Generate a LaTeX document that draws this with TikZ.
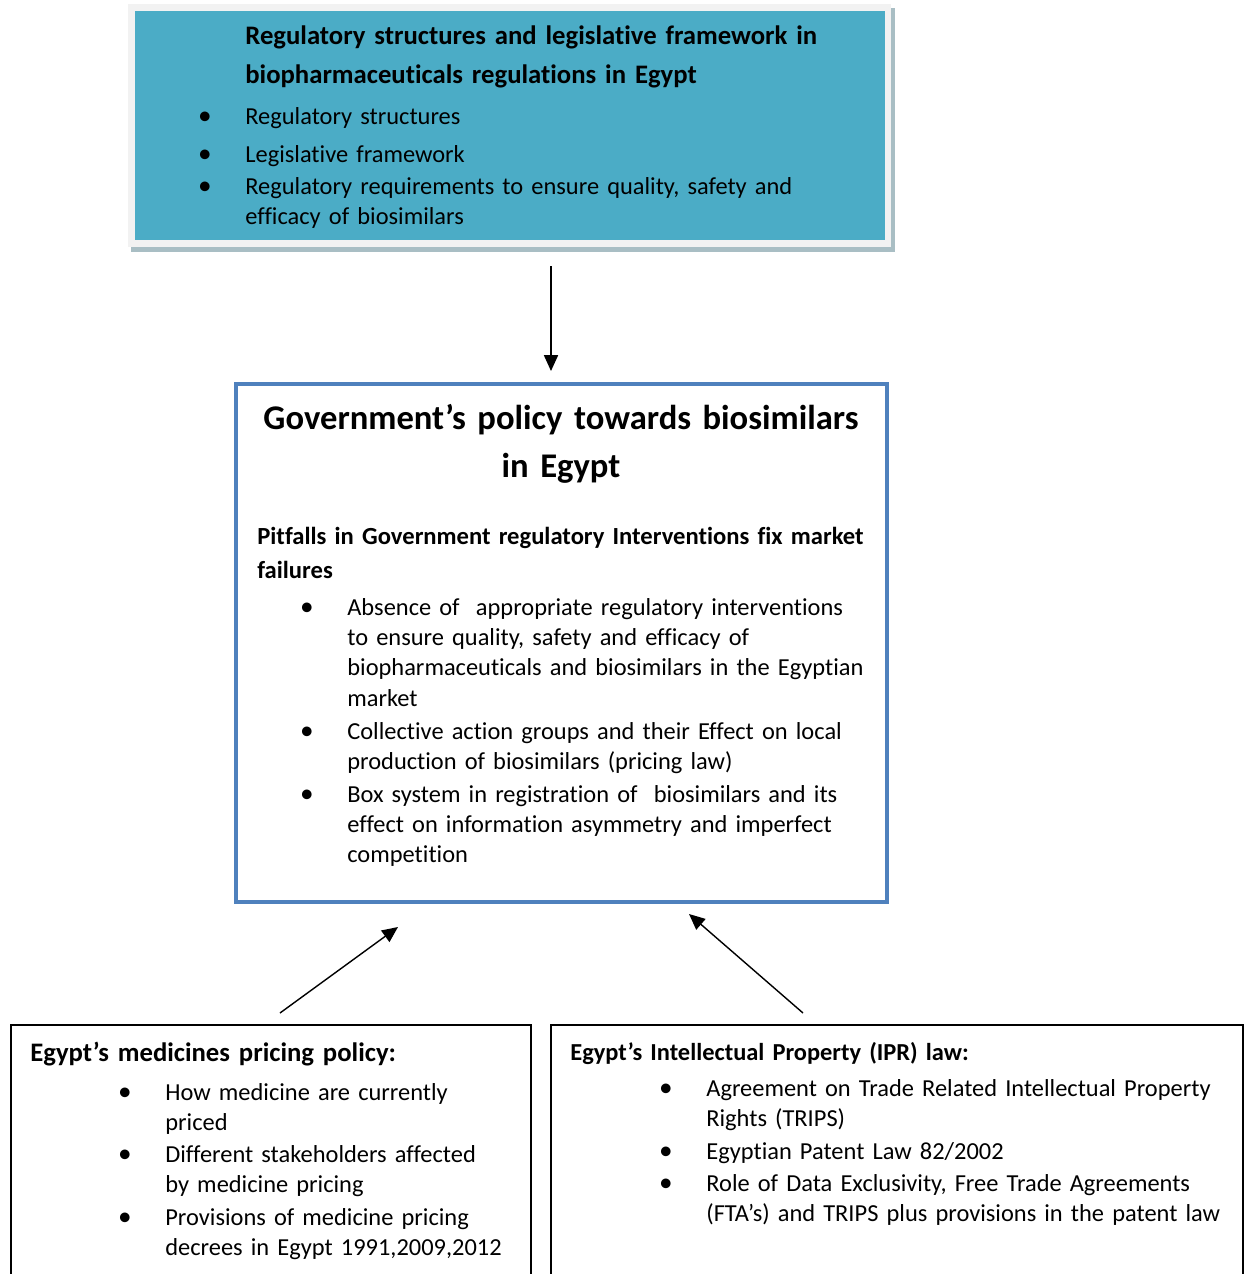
\documentclass[tikz,border=0pt]{standalone}
\usepackage{fontspec}
\setmainfont{Carlito}[Ligatures={NoCommon}]
\usetikzlibrary{arrows.meta,positioning}
\definecolor{regteal}{HTML}{4BACC6}
\definecolor{framegrey}{HTML}{F2F2F2}
\definecolor{shadowgrey}{HTML}{A9BEC4}
\definecolor{govblue}{HTML}{4F81BD}

\begin{document}
\begin{tikzpicture}[x=0.02cm,y=-0.02cm,
  txt/.style={anchor=base west,inner sep=0pt,text width=16cm,align=left,
    font=\fontsize{13.9}{17.3}\selectfont},
  head/.style={txt,font=\bfseries\fontsize{15.2}{22}\selectfont},
  bul/.style={anchor=base,inner sep=0pt,font=\fontsize{15.5}{17.3}\selectfont},
  arr/.style={-{Triangle[length=9pt,width=8pt]},line width=0.8pt}]
\useasboundingbox (0,0) rectangle (1251,1274);

% top box
\fill[shadowgrey] (131,8) rectangle (895,252);
\fill[framegrey] (128,4) rectangle (891,247);
\fill[regteal] (135,11) rectangle (885,240);
\node[head] (reghead) at (245,45) {Regulatory structures and legislative framework in\\
  biopharmaceuticals regulations in Egypt};
\node[bul] (rb1) at (205,125) {\textbullet};
\node[txt] (ri1) at (245,125) {Regulatory structures};
\node[bul] (rb2) at (205,162) {\textbullet};
\node[txt] (ri2) at (245,162) {Legislative framework};
\node[bul] (rb3) at (205,194) {\textbullet};
\node[txt] (ri3) at (245,194) {Regulatory requirements to ensure quality, safety and\\
  efficacy of biosimilars};

% government box
\draw[govblue,line width=2.3pt] (236,384) rectangle (887,902);
\node[anchor=base,inner sep=0pt,text width=16cm,align=center,
  font=\bfseries\fontsize{19.7}{27.8}\selectfont] (govtitle) at (561,429)
  {Government’s policy towards biosimilars\\ in Egypt};
\node[txt,font=\bfseries\fontsize{14}{19.8}\selectfont] (pitfalls) at (257,544)
  {Pitfalls in Government regulatory Interventions fix market\\ failures};
\node[bul] (gb1) at (307,615) {\textbullet};
\node[txt] (gi1) at (347,615) {Absence of \ appropriate regulatory interventions\\
  to ensure quality, safety and efficacy of\\
  biopharmaceuticals and biosimilars in the Egyptian\\
  market};
\node[bul] (gb2) at (307,739) {\textbullet};
\node[txt] (gi2) at (347,739) {Collective action groups and their Effect on local\\
  production of biosimilars (pricing law)};
\node[bul] (gb3) at (307,802) {\textbullet};
\node[txt] (gi3) at (347,802) {Box system in registration of \ biosimilars and its\\
  effect on information asymmetry and imperfect\\
  competition};

% pricing box
\draw[line width=1.1pt] (11,1280) |- (531,1025) -- (531,1280);
\node[txt,font=\bfseries\fontsize{15.2}{17.3}\selectfont] (pricehead) at (30,1061)
  {Egypt’s medicines pricing policy:};
\node[bul] (pb1) at (125,1100) {\textbullet};
\node[txt] (pi1) at (165,1100) {How medicine are currently\\ priced};
\node[bul] (pb2) at (125,1162) {\textbullet};
\node[txt] (pi2) at (165,1162) {Different stakeholders affected\\ by medicine pricing};
\node[bul] (pb3) at (125,1225) {\textbullet};
\node[txt] (pi3) at (165,1225) {Provisions of medicine pricing\\ decrees in Egypt 1991,2009,2012};

% IPR box
\draw[line width=1.1pt] (551,1280) |- (1243,1025) -- (1243,1280);
\node[txt,font=\bfseries\fontsize{13.9}{17.3}\selectfont] (iprhead) at (570,1060)
  {Egypt’s Intellectual Property (IPR) law:};
\node[bul] (ib1) at (666,1096) {\textbullet};
\node[txt] (ii1) at (706,1096) {Agreement on Trade Related Intellectual Property\\ Rights (TRIPS)};
\node[bul] (ib2) at (666,1159) {\textbullet};
\node[txt] (ii2) at (706,1159) {Egyptian Patent Law 82/2002};
\node[bul] (ib3) at (666,1191) {\textbullet};
\node[txt] (ii3) at (706,1191) {Role of Data Exclusivity, Free Trade Agreements\\
  (FTA’s) and TRIPS plus provisions in the patent law};

% arrows
\coordinate (topfrom) at (551,266);
\coordinate (topto) at (551,371);
\coordinate (leftfrom) at (280,1013);
\coordinate (leftto) at (398,927);
\coordinate (rightfrom) at (803,1013);
\coordinate (rightto) at (689,914);
\draw[arr] (topfrom) -- (topto);
\draw[arr] (leftfrom) -- (leftto);
\draw[arr] (rightfrom) -- (rightto);
\end{tikzpicture}
\end{document}
